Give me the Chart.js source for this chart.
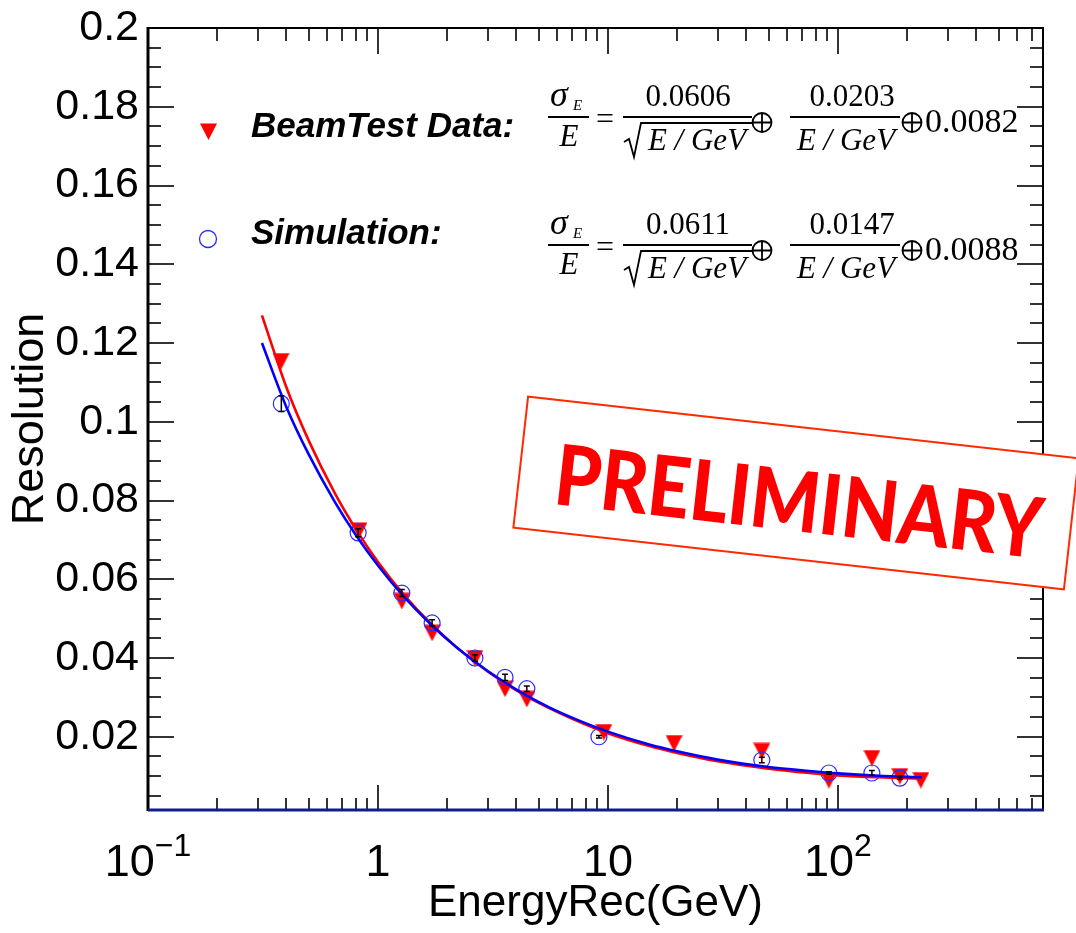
<!DOCTYPE html>
<html>
<head>
<meta charset="utf-8">
<title>Energy resolution</title>
<script src="https://cdn.jsdelivr.net/npm/chart.js@4.4.1/dist/chart.umd.min.js"></script>
<style>
  html, body { margin: 0; padding: 0; background: #fff; }
  #wrap { width: 1076px; height: 933px; }
</style>
</head>
<body>
<div id="wrap"><canvas id="res" width="1076" height="933"></canvas></div>
<script>
// beam test measurements: energy (GeV) and sigma/E
const dataEnergy = [0.379, 0.827, 1.27, 1.72, 2.64, 3.57, 4.44, 9.6, 19.4, 46.7, 91.4, 140.6, 186, 229.6];
const dataRes = [0.1154, 0.0724, 0.0545, 0.0464, 0.0400, 0.0322, 0.0296, 0.0212, 0.0184, 0.0164, 0.0090, 0.0146, 0.0100, 0.0090];

// simulation points with their (small) errors
const simEnergy = [0.38, 0.82, 1.27, 1.72, 2.64, 3.57, 4.44, 9.14, 46.7, 91.4, 140.6, 186];
const simRes = [0.1046, 0.0718, 0.0565, 0.0489, 0.0400, 0.0351, 0.0322, 0.0200, 0.0141, 0.0108, 0.0108, 0.0095];
const simErr = [0.0020, 0.0010, 0.0009, 0.0008, 0.0008, 0.0008, 0.0007, 0.0003, 0.0007, 0.0003, 0.0006, 0.0003];

// fitted resolution curves, sampled along the energy range
const fitEnergy = [0.313, 0.4, 0.5, 0.65, 0.8, 1, 1.3, 1.7, 2.2, 3, 4, 5.5, 7.5, 10, 15, 20, 30, 50, 75, 100, 150, 232];
const fitData = [0.1270, 0.1087, 0.0952, 0.0818, 0.0728, 0.0644, 0.0560, 0.0487, 0.0427, 0.0366, 0.0318, 0.0274, 0.0238, 0.0209, 0.0177, 0.0159, 0.0138, 0.0119, 0.0108, 0.0102, 0.0097, 0.0094];
const fitSim = [0.1200, 0.1037, 0.0917, 0.0796, 0.0713, 0.0635, 0.0555, 0.0485, 0.0427, 0.0367, 0.0320, 0.0276, 0.0241, 0.0213, 0.0181, 0.0163, 0.0142, 0.0123, 0.0113, 0.0107, 0.0101, 0.0097];

// fit parameters shown in the formulas (stochastic, noise, constant)
const fitLabels = ['BeamTest Data:', 'Simulation:'];
const fitA = ['0.0606', '0.0611'];
const fitB = ['0.0203', '0.0147'];
const fitC = ['0.0082', '0.0088'];

// axis ticks
const yTickValues = [0.02, 0.04, 0.06, 0.08, 0.1, 0.12, 0.14, 0.16, 0.18, 0.2];
const xTickValues = [0.1, 1, 10, 100];
const xTickBase = ['10', '1', '10', '10'];
const xTickExp = ['\u22121', '', '', '2'];

const SANS = '"Liberation Sans", Arial, sans-serif';
const SERIF = '"Liberation Serif", "Times New Roman", serif';
const RED = '#ff0000';
const BLUE = '#0000ff';

// ROOT style full triangle (pointing down), centred on its bounding box
const triangleDown = (() => {
  const c = document.createElement('canvas');
  c.width = 17; c.height = 17;
  const g = c.getContext('2d');
  g.fillStyle = RED;
  g.beginPath();
  g.moveTo(0, 0.5); g.lineTo(17, 0.5); g.lineTo(8.5, 17);
  g.closePath();
  g.fill();
  return c;
})();

const toXY = (xs, ys) => xs.map((x, i) => ({ x: x, y: ys[i] }));

// small vertical error bars on the simulation points
const errorBars = {
  id: 'errorBars',
  afterDatasetsDraw(chart) {
    const { ctx, scales: { x, y } } = chart;
    ctx.save();
    ctx.strokeStyle = '#000';
    ctx.lineWidth = 1.5;
    simEnergy.forEach((e, i) => {
      const px = x.getPixelForValue(e);
      const lo = y.getPixelForValue(simRes[i] - simErr[i]);
      const hi = y.getPixelForValue(simRes[i] + simErr[i]);
      ctx.beginPath();
      ctx.moveTo(px, lo); ctx.lineTo(px, hi);
      ctx.moveTo(px - 3, lo); ctx.lineTo(px + 3, lo);
      ctx.moveTo(px - 3, hi); ctx.lineTo(px + 3, hi);
      ctx.stroke();
    });
    ctx.restore();
  }
};

function drawOplus(ctx, cx, cy, r) {
  ctx.beginPath();
  ctx.arc(cx, cy, r, 0, Math.PI * 2);
  ctx.moveTo(cx - r, cy); ctx.lineTo(cx + r, cy);
  ctx.moveTo(cx, cy - r); ctx.lineTo(cx, cy + r);
  ctx.stroke();
}

function hline(ctx, x1, x2, y) {
  ctx.beginPath();
  ctx.moveTo(x1, y); ctx.lineTo(x2, y);
  ctx.stroke();
}

// sigma_E/E = a/sqrt(E/GeV) (+) b/(E/GeV) (+) c
function drawFormula(ctx, y0, a, b, c) {
  ctx.save();
  ctx.fillStyle = '#000';
  ctx.strokeStyle = '#000';
  ctx.lineWidth = 1.8;
  ctx.textBaseline = 'alphabetic';

  ctx.textAlign = 'left';
  ctx.font = 'italic 36px ' + SERIF;
  ctx.fillText('\u03c3', 550, y0 - 11);
  ctx.font = 'italic 15px ' + SERIF;
  ctx.fillText('E', 573, y0 - 7);
  hline(ctx, 548, 589, y0);
  ctx.textAlign = 'center';
  ctx.font = 'italic 31px ' + SERIF;
  ctx.fillText('E', 569, y0 + 29);

  ctx.font = '32px ' + SERIF;
  ctx.fillText('=', 605, y0 + 12);

  ctx.font = '31px ' + SERIF;
  ctx.fillText(a, 688, y0 - 11);
  hline(ctx, 623, 752, y0);
  ctx.beginPath();
  ctx.moveTo(624, y0 + 25); ctx.lineTo(629, y0 + 22);
  ctx.lineTo(634, y0 + 40); ctx.lineTo(641, y0 + 6);
  ctx.lineTo(752, y0 + 6);
  ctx.stroke();
  ctx.font = 'italic 31px ' + SERIF;
  ctx.fillText('E / GeV', 697, y0 + 33);

  drawOplus(ctx, 762, y0 + 5.5, 9.5);

  ctx.font = '31px ' + SERIF;
  ctx.fillText(b, 852, y0 - 11);
  hline(ctx, 790, 900, y0);
  ctx.font = 'italic 31px ' + SERIF;
  ctx.fillText('E / GeV', 846, y0 + 33);

  drawOplus(ctx, 912, y0 + 5.5, 9.5);

  ctx.textAlign = 'left';
  ctx.font = '34px ' + SERIF;
  ctx.fillText(c, 925, y0 + 15);
  ctx.restore();
}

// frame with inward ticks, exponent labels, legend, formulas and stamp
const decorations = {
  id: 'decorations',
  afterDraw(chart) {
    const { ctx, chartArea: a, scales: { x, y } } = chart;
    ctx.save();

    // ticks on all four sides
    ctx.strokeStyle = '#333';
    ctx.lineWidth = 2;
    ctx.beginPath();
    for (let k = 1; k < 40; k++) {
      const v = k * 0.005;
      if (v < y.min) continue;
      const py = Math.round(y.getPixelForValue(v));
      const len = k % 4 === 0 ? 26 : 13;
      ctx.moveTo(a.left, py); ctx.lineTo(a.left + len, py);
      ctx.moveTo(a.right, py); ctx.lineTo(a.right - len, py);
    }
    for (let p = -1; p <= 2; p++) {
      for (let m = 1; m <= 9; m++) {
        const v = m * Math.pow(10, p);
        if (v <= x.min * 1.001 || v > x.max) continue;
        const px = Math.round(x.getPixelForValue(v));
        const len = m === 1 ? 25 : 12;
        ctx.moveTo(px, a.bottom); ctx.lineTo(px, a.bottom - len);
        ctx.moveTo(px, a.top); ctx.lineTo(px, a.top + len + 1);
      }
    }
    ctx.stroke();

    // frame
    ctx.strokeStyle = '#000';
    ctx.lineWidth = 2;
    hline(ctx, a.left, a.right + 1, a.top);
    ctx.beginPath();
    ctx.moveTo(a.right, a.top); ctx.lineTo(a.right, a.bottom);
    ctx.stroke();
    ctx.lineWidth = 3;
    ctx.beginPath();
    ctx.moveTo(a.left, a.top - 1); ctx.lineTo(a.left, a.bottom + 1);
    ctx.stroke();
    ctx.strokeStyle = '#141c8c';
    hline(ctx, a.left, a.right + 1, a.bottom);

    // x tick labels with exponents
    ctx.fillStyle = '#000';
    ctx.textAlign = 'left';
    ctx.textBaseline = 'alphabetic';
    xTickValues.forEach((v, i) => {
      ctx.font = '45px ' + SANS;
      const wb = ctx.measureText(xTickBase[i]).width;
      ctx.font = '32px ' + SANS;
      const we = xTickExp[i] ? ctx.measureText(xTickExp[i]).width : 0;
      const x0 = x.getPixelForValue(v) - (wb + we) / 2;
      ctx.font = '45px ' + SANS;
      ctx.fillText(xTickBase[i], x0, 876);
      if (xTickExp[i]) {
        ctx.font = '32px ' + SANS;
        ctx.fillText(xTickExp[i], x0 + wb, 856);
      }
    });

    // legend
    ctx.drawImage(triangleDown, 200, 123);
    ctx.strokeStyle = '#2a2aff';
    ctx.lineWidth = 1.3;
    ctx.beginPath();
    ctx.arc(208, 239, 8.5, 0, Math.PI * 2);
    ctx.stroke();
    ctx.fillStyle = '#000';
    ctx.font = 'bold italic 35px ' + SANS;
    ctx.fillText(fitLabels[0], 251, 137);
    ctx.fillText(fitLabels[1], 251, 244);

    drawFormula(ctx, 117, fitA[0], fitB[0], fitC[0]);
    drawFormula(ctx, 245, fitA[1], fitB[1], fitC[1]);

    // PRELIMINARY stamp
    ctx.translate(796, 493);
    ctx.rotate(6.4 * Math.PI / 180);
    ctx.fillStyle = '#fff';
    ctx.fillRect(-277, -66, 554, 132);
    ctx.strokeStyle = '#ff2a00';
    ctx.lineWidth = 2;
    ctx.strokeRect(-277, -66, 554, 132);
    ctx.font = '900 84px Lato, ' + SANS;
    const tw = ctx.measureText('PRELIMINARY').width;
    ctx.scale(490 / tw, 1);
    ctx.fillStyle = RED;
    ctx.textAlign = 'center';
    ctx.fillText('PRELIMINARY', 4 * tw / 490, 38);
    ctx.restore();
  }
};

function build() {
  new Chart(document.getElementById('res'), {
    type: 'scatter',
    data: {
      datasets: [
        {
          label: 'Simulation fit',
          data: toXY(fitEnergy, fitSim),
          showLine: true,
          borderColor: BLUE,
          borderWidth: 2.6,
          pointRadius: 0,
          cubicInterpolationMode: 'monotone',
          order: 1
        },
        {
          label: 'BeamTest fit',
          data: toXY(fitEnergy, fitData),
          showLine: true,
          borderColor: RED,
          borderWidth: 2.6,
          pointRadius: 0,
          cubicInterpolationMode: 'monotone',
          order: 2
        },
        {
          label: 'Simulation',
          data: toXY(simEnergy, simRes),
          pointStyle: 'circle',
          pointRadius: 8,
          pointBorderWidth: 1.2,
          pointBorderColor: '#2a2aff',
          pointBackgroundColor: 'rgba(0,0,0,0)',
          order: 3
        },
        {
          label: 'BeamTest Data',
          data: toXY(dataEnergy, dataRes),
          pointStyle: triangleDown,
          pointRadius: 9,
          order: 4
        }
      ]
    },
    options: {
      responsive: false,
      animation: false,
      layout: { padding: { left: 0, top: 28, right: 33, bottom: 0 } },
      plugins: {
        legend: { display: false },
        tooltip: { enabled: false }
      },
      scales: {
        x: {
          type: 'logarithmic',
          min: 0.1,
          max: 780,
          ticks: { display: false },
          grid: { display: false, drawTicks: false },
          border: { display: false },
          title: {
            display: true,
            text: 'EnergyRec(GeV)',
            color: '#000',
            font: { family: SANS, size: 44 },
            padding: { top: 0, bottom: 3 }
          },
          afterFit: s => { s.height = 123; }
        },
        y: {
          type: 'linear',
          min: 0.0014,
          max: 0.2,
          afterBuildTicks: s => { s.ticks = yTickValues.map(v => ({ value: v })); },
          ticks: {
            color: '#000',
            padding: 9,
            autoSkip: false,
            font: { family: SANS, size: 43 },
            callback: v => String(v)
          },
          grid: { display: false, drawTicks: false },
          border: { display: false },
          title: {
            display: true,
            text: 'Resolution',
            color: '#000',
            font: { family: SANS, size: 45 },
            padding: { top: 4, bottom: 0 }
          },
          afterFit: s => { s.width = 148; s.paddingTop = 0; s.paddingBottom = 0; }
        }
      }
    },
    plugins: [errorBars, decorations]
  });
}

Promise.all([
  document.fonts.load('46px "Liberation Sans"'),
  document.fonts.load('bold italic 35px "Liberation Sans"'),
  document.fonts.load('30px "Liberation Serif"'),
  document.fonts.load('italic 30px "Liberation Serif"'),
  document.fonts.load('900 84px Lato')
]).then(build, build);
</script>
</body>
</html>
